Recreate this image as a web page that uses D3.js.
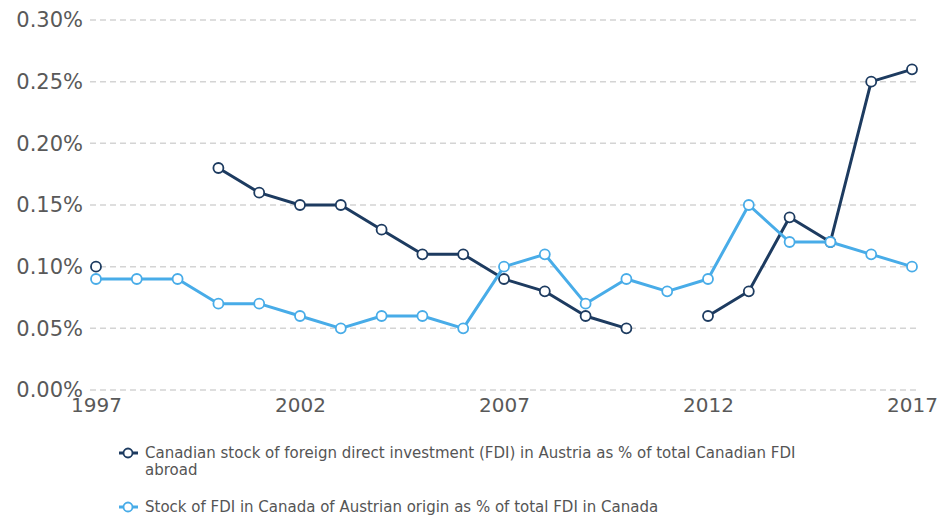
<!DOCTYPE html>
<html>
<head>
<meta charset="utf-8">
<script src="https://cdn.jsdelivr.net/npm/d3@7"></script>
<style>
  body { margin: 0; background: #fff; }
  svg { display: block; font-family: "DejaVu Sans", Verdana, sans-serif; }
</style>
</head>
<body>
<svg id="chart" width="941" height="515"></svg>
<script>
const years = d3.range(1997, 2018);
const canadaAbroad = [0.10, null, null, 0.18, 0.16, 0.15, 0.15, 0.13, 0.11, 0.11, 0.09, 0.08, 0.06, 0.05, null, 0.06, 0.08, 0.14, 0.12, 0.25, 0.26];
const austriaInCanada = [0.09, 0.09, 0.09, 0.07, 0.07, 0.06, 0.05, 0.06, 0.06, 0.05, 0.10, 0.11, 0.07, 0.09, 0.08, 0.09, 0.15, 0.12, 0.12, 0.11, 0.10];
const yTicks = [0, 0.05, 0.10, 0.15, 0.20, 0.25, 0.30];
const xTicks = [1997, 2002, 2007, 2012, 2017];
const seriesNames = [
    "Canadian stock of foreign direct investment (FDI) in Austria as % of total Canadian FDI abroad",
    "Stock of FDI in Canada of Austrian origin as % of total FDI in Canada"
];
const seriesColors = ["#1d3b60", "#48ace8"];

const svg = d3.select("#chart");

const x = d3.scaleLinear().domain([1997, 2017]).range([96, 912]);
const y = d3.scaleLinear().domain([0, 0.30]).range([390, 20]);

// gridlines
svg.append("g")
    .selectAll("line")
    .data(yTicks)
    .enter().append("line")
    .attr("x1", 90).attr("x2", 918)
    .attr("y1", d => y(d)).attr("y2", d => y(d))
    .attr("stroke", "#d4d4d4")
    .attr("stroke-width", 1.5)
    .attr("stroke-dasharray", "6,4");

// y labels
const yAxis = d3.axisLeft(y).tickValues(yTicks).tickSize(0).tickPadding(0)
    .tickFormat(d => d.toFixed(2) + "%");
svg.append("g")
    .attr("transform", "translate(83,0)")
    .call(yAxis)
    .call(g => g.select(".domain").remove())
    .selectAll("text")
    .attr("font-size", 21)
    .attr("font-family", "DejaVu Sans, Verdana, sans-serif")
    .attr("fill", "#595959")
    .attr("dy", "0.33em");

// x labels
const xAxis = d3.axisBottom(x).tickValues(xTicks).tickSize(0).tickPadding(0)
    .tickFormat(d3.format("d"));
svg.append("g")
    .attr("transform", "translate(0,395)")
    .call(xAxis)
    .call(g => g.select(".domain").remove())
    .selectAll("text")
    .attr("font-size", 20)
    .attr("font-family", "DejaVu Sans, Verdana, sans-serif")
    .attr("fill", "#595959")
    .attr("dy", "0.85em");

const allSeries = [canadaAbroad, austriaInCanada];

const line = d3.line()
    .defined(d => d.v != null)
    .x(d => x(d.year))
    .y(d => y(d.v));

[0, 1].forEach(i => {
    const pts = years.map((yr, j) => ({ year: yr, v: allSeries[i][j] }));
    const g = svg.append("g");
    g.append("path")
        .datum(pts)
        .attr("fill", "none")
        .attr("stroke", seriesColors[i])
        .attr("stroke-width", 3)
        .attr("stroke-linejoin", "round")
        .attr("d", line);
    g.selectAll("circle")
        .data(pts.filter(d => d.v != null))
        .enter().append("circle")
        .attr("cx", d => x(d.year))
        .attr("cy", d => y(d.v))
        .attr("r", 5)
        .attr("fill", "#fff")
        .attr("stroke", seriesColors[i])
        .attr("stroke-width", 1.8);
});

// legend
const legendRows = [
    { lines: [seriesNames[0].replace(" abroad", ""), "abroad"], y: 453 },
    { lines: [seriesNames[1]], y: 507 }
];
legendRows.forEach((row, i) => {
    const g = svg.append("g");
    g.append("line")
        .attr("x1", 119).attr("x2", 138)
        .attr("y1", row.y).attr("y2", row.y)
        .attr("stroke", seriesColors[i]).attr("stroke-width", 3);
    g.append("circle")
        .attr("cx", 128).attr("cy", row.y).attr("r", 4.5)
        .attr("fill", "#fff").attr("stroke", seriesColors[i]).attr("stroke-width", 1.8);
    row.lines.forEach((s, k) => {
        g.append("text")
            .attr("x", 145)
            .attr("y", row.y + k * 17)
            .attr("dy", "0.35em")
            .attr("font-size", 15)
            .attr("font-family", "DejaVu Sans, Verdana, sans-serif")
            .attr("fill", "#555")
            .text(s);
    });
});
</script>
</body>
</html>
